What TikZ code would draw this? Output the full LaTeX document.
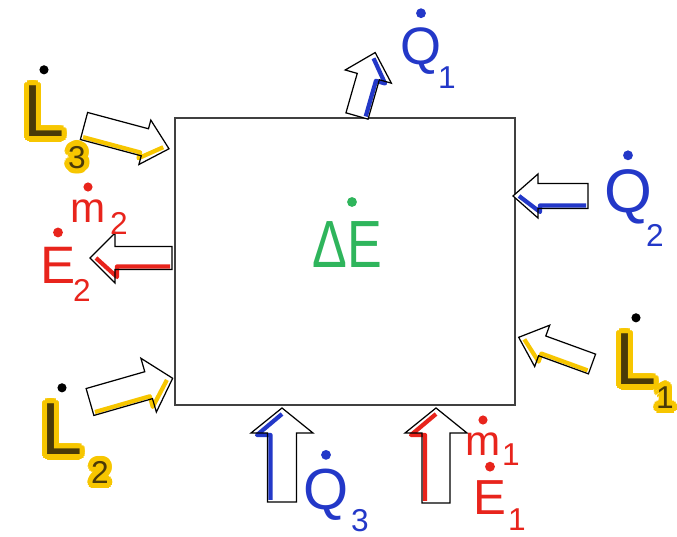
\documentclass[tikz,border=0pt]{standalone}
\usepackage{fontspec}
\setmainfont{Liberation Sans}
\usepackage[copies]{contour}
\contourlength{3pt}
\definecolor{fluxblue}{HTML}{2338C8}
\definecolor{fluxred}{HTML}{E8241C}
\definecolor{fluxgreen}{HTML}{2FB55C}
\definecolor{fluxyellow}{HTML}{F7C600}
\definecolor{inkbrown}{HTML}{4A3A08}
\newcommand\ylw[1]{\contour{fluxyellow}{#1}}
\tikzset{pics/flux/.style args={#1/#2/#3/#4}{code={\fill[white] (0,-#3)--(#2-25,-#3)--(#2-25,-#4)--(#2,0)--(#2-25,#4)--(#2-25,#3)--(0,#3)--cycle;\draw[#1,line width=2.4pt,line join=round] (2,-#3+3)--(#2-27,-#3+3)--(#2-27,-#4+6)--(#2-6,0);\draw[black,line width=0.7pt] (0,-#3)--(#2-25,-#3)--(#2-25,-#4)--(#2,0)--(#2-25,#4)--(#2-25,#3)--(0,#3)--cycle;}},sysbox/.style={draw=black!75,line width=0.8pt,minimum width=6.8cm,minimum height=5.74cm,inner sep=0pt},quant/.style={inner sep=0pt,text=#1},big/.style={font=\fontsize{#1}{#1}\selectfont},sub/.style={font=\fontsize{18}{18}\selectfont},dotmark/.style={fill=#1}}

\begin{document}
\begin{tikzpicture}[x=0.02cm,y=0.02cm]
\useasboundingbox (0,0) rectangle (677,537);
\node[sysbox] (sys) at (345,275.5) {};
\pic[rotate=-15] at (84,411) {flux=fluxyellow/88/14/23};\pic[rotate=74] at (357,421) {flux=fluxblue/66/11.5/24};\pic[rotate=180,yscale=-1] at (588,341) {flux=fluxblue/75/12.5/22};\pic[rotate=160,yscale=-1] at (592,173) {flux=fluxyellow/78/10.5/22};
\pic[rotate=180,yscale=-1] at (172,279) {flux=fluxred/82/11.5/25};\pic[rotate=16] at (90,135) {flux=fluxyellow/86/14/28};\pic[rotate=90,yscale=-1] at (282,35) {flux=fluxblue/94/14.5/31};\pic[rotate=90,yscale=-1] at (436,34) {flux=fluxred/95/14/31};
% labels
\node[quant=fluxgreen,big=38,xscale=0.78] (de) at (347,292) {ΔE};\fill[dotmark=fluxgreen] (352,335) circle (2.8pt);
\node[quant=inkbrown,big=42] (l3) at (44,423) {\ylw{L}};\fill[dotmark=black] ([yshift=9pt]l3.north) circle (2.6pt);\node[quant=inkbrown,sub] (l3s) at (77,377) {\ylw{3}};
\node[quant=inkbrown,big=42] (l2) at (62,105) {\ylw{L}};\fill[dotmark=black] ([yshift=9pt]l2.north) circle (2.6pt);\node[quant=inkbrown,sub] (l2s) at (100,62) {\ylw{2}};
\node[quant=inkbrown,big=42] (l1) at (636,175) {\ylw{L}};\fill[dotmark=black] ([yshift=9pt]l1.north) circle (2.6pt);\node[quant=inkbrown,sub] (l1s) at (665,137) {\ylw{1}};
\node[quant=fluxblue,big=30] (q1) at (421,486) {Q};\fill[dotmark=fluxblue] ([yshift=8pt]q1.north) circle (2.8pt);\node[quant=fluxblue,sub] (q1s) at (447,459) {1};
\node[quant=fluxblue,big=35] (q2) at (628,340) {Q};\fill[dotmark=fluxblue] ([yshift=8pt]q2.north) circle (2.8pt);\node[quant=fluxblue,sub] (q2s) at (655,302) {2};
\node[quant=fluxblue,big=33] (q3) at (326,42) {Q};\fill[dotmark=fluxblue] ([yshift=8pt]q3.north) circle (2.8pt);\node[quant=fluxblue,sub] (q3s) at (360,16) {3};
\node[quant=fluxred,big=30] (e2) at (58,272) {E};\fill[dotmark=fluxred] ([yshift=8pt]e2.north) circle (2.8pt);\node[quant=fluxred,sub] (e2s) at (82,247) {2};
\node[quant=fluxred,big=24] (m2) at (88,326) {m};\fill[dotmark=fluxred] ([yshift=7pt]m2.north) circle (2.6pt);\node[quant=fluxred,sub] (m2s) at (119,314) {2};
\node[quant=fluxred,big=24] (m1) at (483,93) {m};\fill[dotmark=fluxred] ([yshift=7pt]m1.north) circle (2.6pt);\node[quant=fluxred,sub] (m1s) at (511,82) {1};
\node[quant=fluxred,big=28] (e1) at (490,39) {E};\fill[dotmark=fluxred] ([yshift=8pt]e1.north) circle (2.8pt);\node[quant=fluxred,sub] (e1s) at (517,17) {1};
\end{tikzpicture}
\end{document}
